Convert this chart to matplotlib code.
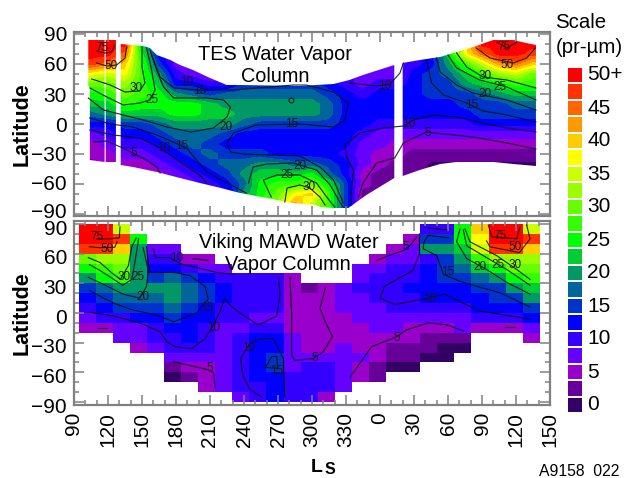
import matplotlib
matplotlib.use('Agg')
import matplotlib.pyplot as plt
import numpy as np
from matplotlib.colors import ListedColormap, BoundaryNorm
from matplotlib.patches import PathPatch
from matplotlib.path import Path
from matplotlib.transforms import ScaledTranslation

plt.rcParams['font.family'] = ['Liberation Sans', 'DejaVu Sans']

W, H = 633, 478
n = np.nan

# colour scale, one colour per 2.5 pr-um
scale_levels = [0, 2.5, 5, 7.5, 10, 12.5, 15, 17.5, 20, 22.5, 25, 27.5, 30, 32.5, 35, 37.5, 40, 42.5, 45, 47.5, 50]
scale_colors = ['#330066', '#660099', '#9900cc', '#6600ff', '#3300ff', '#0000ff', '#0033cc', '#006699', '#009966',
                '#00cc33', '#00ff00', '#33ff00', '#66ff00', '#99ff00', '#ccff00', '#ffff00', '#ffcc00', '#ff9900',
                '#ff6600', '#ff3300', '#ff0000']
scale_ticks = ['0', '5', '10', '15', '20', '25', '30', '35', '40', '45', '50+']

ls_ticks = [90, 120, 150, 180, 210, 240, 270, 300, 330, 360, 390, 420, 450, 480, 510]
ls_labels = ['90', '120', '150', '180', '210', '240', '270', '300', '330', '0', '30', '60', '90', '120', '150']
lat_ticks = [90, 60, 30, 0, -30, -60, -90]

# TES column, one list per Ls from 90 to 510 in steps of 15, lat 90 to -90 in steps of 10
tes_ls = [90, 105, 120, 135, 150, 165, 180, 195, 210, 225, 240, 255, 270, 285, 300, 315, 330, 345, 360, 375, 390,
          405, 420, 435, 450, 465, 480, 495, 510]
tes_columns = [
    [50, 50, 50, 47.5, 37.5, 30, 25, 22.5, 17.5, 12.5, 7.5, 5, 5, 2.5, 2.5, 2.5, 2.5, 2.5, 2.5],
    [50, 50, 50, 47.5, 37.5, 30, 25, 22.5, 17.5, 12.5, 7.5, 5, 5, 2.5, 2.5, 2.5, 2.5, 2.5, 2.5],
    [50, 50, 50, 45, 35, 30, 27.5, 22.5, 20, 12.5, 10, 7.5, 5, 5, 5, 5, 5, 5, 5],
    [50, 50, 45, 40, 37.5, 32.5, 30, 27.5, 22.5, 15, 12.5, 10, 7.5, 5, 5, 5, 5, 5, 5],
    [22.5, 22.5, 25, 27.5, 27.5, 27.5, 27.5, 25, 22.5, 15, 12.5, 10, 7.5, 5, 5, 5, 5, 5, 5],
    [12.5, 12.5, 12.5, 15, 20, 22.5, 25, 25, 22.5, 17.5, 15, 12.5, 10, 7.5, 5, 5, 5, 5, 5],
    [7.5, 7.5, 7.5, 7.5, 10, 12.5, 20, 25, 25, 20, 17.5, 15, 12.5, 10, 7.5, 5, 5, 5, 5],
    [5, 5, 5, 5, 7.5, 12.5, 17.5, 25, 25, 20, 17.5, 17.5, 15, 12.5, 10, 7.5, 7.5, 7.5, 7.5],
    [5, 5, 5, 5, 5, 10, 15, 22.5, 22.5, 20, 17.5, 15, 17.5, 15, 12.5, 10, 10, 10, 10],
    [10, 10, 10, 10, 10, 10, 17.5, 20, 22.5, 20, 15, 12.5, 15, 17.5, 15, 12.5, 10, 10, 10],
    [15, 15, 15, 15, 15, 15, 17.5, 20, 20, 17.5, 12.5, 12.5, 15, 17.5, 20, 17.5, 20, 20, 20],
    [15, 15, 15, 15, 15, 15, 17.5, 20, 20, 15, 12.5, 12.5, 15, 20, 22.5, 25, 25, 27.5, 27.5],
    [15, 15, 15, 15, 15, 15, 17.5, 20, 20, 15, 12.5, 12.5, 12.5, 20, 22.5, 27.5, 30, 32.5, 32.5],
    [15, 15, 15, 15, 15, 15, 17.5, 20, 20, 15, 12.5, 12.5, 12.5, 17.5, 22.5, 27.5, 37.5, 42.5, 42.5],
    [15, 15, 15, 15, 15, 15, 17.5, 20, 20, 15, 12.5, 12.5, 12.5, 17.5, 25, 30, 40, 35, 35],
    [12.5, 12.5, 12.5, 12.5, 12.5, 12.5, 15, 17.5, 17.5, 15, 12.5, 12.5, 12.5, 15, 17.5, 25, 27.5, 27.5, 27.5],
    [10, 10, 10, 10, 10, 10, 12.5, 12.5, 12.5, 12.5, 12.5, 12.5, 10, 12.5, 12.5, 15, 15, 15, 15],
    [7.5, 7.5, 7.5, 7.5, 7.5, 7.5, 10, 12.5, 12.5, 12.5, 10, 7.5, 7.5, 7.5, 5, 5, 2.5, 5, 5],
    [7.5, 7.5, 7.5, 7.5, 7.5, 10, 12.5, 12.5, 12.5, 10, 7.5, 7.5, 5, 5, 2.5, 2.5, 2.5, 2.5, 2.5],
    [7.5, 7.5, 7.5, 7.5, 7.5, 10, 12.5, 12.5, 12.5, 10, 7.5, 5, 5, 2.5, 2.5, 2.5, 2.5, 2.5, 2.5],
    [10, 10, 10, 10, 12.5, 12.5, 12.5, 12.5, 12.5, 10, 7.5, 5, 2.5, 2.5, 2.5, 2.5, 2.5, 2.5, 2.5],
    [12.5, 12.5, 12.5, 12.5, 15, 15, 15, 12.5, 12.5, 10, 7.5, 5, 2.5, 1, 1, 1, 1, 1, 1],
    [22.5, 22.5, 22.5, 20, 17.5, 15, 15, 12.5, 12.5, 10, 7.5, 5, 2.5, 1, 1, 1, 1, 1, 1],
    [37.5, 37.5, 37.5, 27.5, 22.5, 20, 15, 15, 12.5, 10, 7.5, 5, 2.5, 1, 1, 1, 1, 1, 1],
    [50, 50, 45, 35, 27.5, 22.5, 17.5, 15, 15, 12.5, 7.5, 5, 2.5, 1, 1, 1, 1, 1, 1],
    [50, 50, 50, 42.5, 32.5, 25, 20, 15, 15, 12.5, 7.5, 5, 2.5, 1, 1, 1, 1, 1, 1],
    [50, 50, 50, 45, 35, 27.5, 22.5, 17.5, 15, 12.5, 7.5, 5, 2.5, 1, 1, 1, 1, 1, 1],
    [50, 50, 47.5, 40, 30, 27.5, 22.5, 17.5, 15, 12.5, 7.5, 5, 2.5, 1, 1, 1, 1, 1, 1],
    [50, 50, 47.5, 40, 30, 27.5, 22.5, 17.5, 15, 12.5, 7.5, 5, 2.5, 1, 1, 1, 1, 1, 1],
]

# coverage of the TES map, (Ls, lat) around each swath
tes_swaths = [
    [(102.6, 84), (117, 84), (117, -38), (104, -36), (104, 37), (102.6, 38)],
    [(118, 84), (127, 84), (127, -38), (118, -38)],
    [(131.2, 80), (151, 78), (157, 76), (163, 69), (175, 64), (183.5, 59), (195, 54), (210, 46), (224.7, 39),
     (236.5, 39), (289, 38), (319, 40), (333, 44), (345, 49), (372.6, 59), (372.6, -54), (348, -71), (332, -84),
     (319, -84), (307, -83), (304, -81), (283, -79), (260, -74), (236.5, -69), (216, -63), (201, -59), (183.5, -54),
     (163, -48), (142, -43), (131.2, -41)],
    [(380, 61), (395, 64), (413, 67), (427.6, 72), (442, 77), (460, 84), (477.6, 84), (489, 81), (497.6, 79),
     (497.6, -42), (477.6, -40), (460, -38), (427.6, -38), (413, -40), (395, -46), (380, -52)],
]

tes_lines = [
    [(126, 79), (123, 72), (117, 71), (110, 73)],
    [(136.5, 77), (135, 66), (127.6, 59), (119, 58), (110, 61)],
    [(105.6, 45), (122, 39), (135, 32), (148, 33), (152.6, 41), (150, 57), (150, 77)],
    [(104, 36), (119, 27), (133.5, 19), (148, 21), (157, 24), (161.5, 34), (158.5, 54), (154, 76)],
    [(102.6, 26), (116, 14), (133.5, 9), (151, 4), (172, -3), (193, -8), (213, -4), (225, 7), (228, 17), (222, 24),
     (207, 26), (178, 26), (169, 37), (163, 54), (157, 74)],
    [(158.5, 69), (166, 47), (178, 36), (201, 34), (230.6, 34), (283.5, 39), (295, 39), (319, 32), (332, 21), (329, 4),
     (319, -3), (289, 0), (251, -1), (230.6, -9), (225, -19), (228, -28), (239.4, -30), (289.4, -32), (307, -43),
     (319, -56), (327.6, -79)],
    [(104, 6), (122, 0), (142, -3), (163, -11), (189.5, -24), (198, -36), (207, -48), (225, -59), (242, -69)],
    [(104, -6), (125, -11), (148, -14), (166, -24), (181, -36), (201, -51), (207, -59)],
    [(107, -18), (119, -17), (131, -23), (142, -29), (154, -36), (163, -43), (166, -49)],
    [(244, -59), (248, -43), (260, -40), (283.5, -39), (289, -41), (304, -46), (316, -61), (325, -79), (327.6, -83)],
    [(264, -73), (257, -56), (269, -51), (289, -51), (304, -59), (313, -73), (320, -83)],
    [(276, -78), (278, -64), (289.4, -61), (298, -64), (307, -73), (311.5, -81)],
    [(333.5, 41), (357, 38), (369, 40), (377.6, 51), (380.6, 61)],
    [(497.6, -8), (472, -4), (451, 1), (427.6, 7), (407, 9), (389.4, 4), (380.6, -2), (363, -4), (342, -9), (329, -21),
     (330.5, -33), (336.5, -46), (335, -66), (335, -81)],
    [(497.6, -25), (472, -19), (442, -13), (401, -8), (380.6, -19), (373, -34), (357, -39), (345, -59), (341, -73)],
    [(401, 64), (405.6, 41), (416, 29), (436.5, 21), (451, 13), (472, 9), (497.6, 2)],
    [(410, 66), (413, 52), (427.6, 39), (442, 31), (472, 24), (497.6, 14)],
    [(420, 69), (427.6, 56), (448, 44), (472, 37), (497.6, 24)],
    [(427.6, 71), (436.5, 57), (451, 47), (472, 44), (497.6, 36)],
    [(445, 76), (457, 66), (477.6, 61), (489.4, 66), (497, 76)],
    [(463, 82), (472, 76), (480.6, 82)],
]
tes_ring = [(281.5, 24)]
tes_labels = [('75', 114.4, 76), ('50', 123, 58), ('30', 145, 36), ('25', 159, 24), ('20', 224, -3), ('15', 282, 0),
              ('10', 189, 42), ('15', 201, 33), ('15', 185, -22), ('10', 169, -24), ('5', 143, -29), ('20', 289.4, -42),
              ('25', 277.6, -51), ('30', 297.6, -63), ('10', 364, 38), ('10', 385, 0), ('5', 402.6, -9), ('15', 441, 19),
              ('20', 452.6, 30), ('25', 466, 37), ('30', 452.6, 48), ('50', 472, 59), ('75', 469, 77)]

# Viking MAWD blocks, rows lat 90 to -90 (10 deg), 27 columns
viking_rows = [
    [50, 50, 35, n, n, n, n, n, n, n, n, n, n, n, n, n, n, n, n, n, 10, 10, 25, 40, 50, 50, 35],
    [50, 50, 47.5, 25, n, n, n, n, n, n, n, n, n, n, n, n, n, n, n, 5, 15, 15, 25, 37.5, 50, 50, 47.5],
    [47.5, 47.5, 40, 20, 7.5, 7.5, n, n, n, n, n, n, n, n, n, n, n, n, 5, 7.5, 20, 20, 22.5, 35, 47.5, 47.5, 40],
    [30, 32.5, 32.5, 20, 10, 10, 5, 5, n, n, n, n, n, n, n, n, n, 5, 7.5, 7.5, 10, 15, 20, 27.5, 32.5, 32.5, 32.5],
    [25, 27.5, 30, 20, 12.5, 12.5, 10, 7.5, 7.5, n, n, n, n, n, n, n, 7.5, 7.5, 10, 10, 12.5, 15, 17.5, 22.5, 25, 30, 30],
    [20, 25, 27.5, 20, 15, 17.5, 15, 12.5, 10, 10, 10, 10, 5, n, n, n, 7.5, 10, 10, 10, 12.5, 15, 15, 17.5, 20, 25, 27.5],
    [15, 17.5, 20, 20, 20, 20, 17.5, 15, 12.5, 10, 10, 10, 5, 2.5, 5, 7.5, 10, 10, 10, 12.5, 12.5, 12.5, 12.5, 15, 15, 20, 22.5],
    [12.5, 15, 17.5, 17.5, 17.5, 20, 17.5, 15, 12.5, 10, 10, 10, 5, 5, 5, 7.5, 7.5, 10, 10, 10, 12.5, 12.5, 12.5, 12.5, 15, 15, 20],
    [10, 12.5, 15, 15, 15, 17.5, 15, 12.5, 10, 10, 10, 10, 5, 5, 5, 7.5, 7.5, 7.5, 10, 10, 10, 10, 10, 12.5, 12.5, 12.5, 15],
    [7.5, 10, 10, 12.5, 12.5, 15, 12.5, 12.5, 10, 10, 7.5, 7.5, 5, 5, 5, 5, 7.5, 7.5, 7.5, 7.5, 7.5, 7.5, 7.5, 10, 10, 10, 12.5],
    [5, 5, 7.5, 7.5, 10, 12.5, 12.5, 10, 7.5, 7.5, 10, 10, 5, 5, 5, 5, 5, 7.5, 7.5, 5, 5, 5, 7.5, 5, 5, 5, 7.5],
    [n, n, 7.5, 7.5, 10, 10, 12.5, 10, 7.5, 10, 12.5, 12.5, 7.5, 5, 5, 5, 5, 5, 5, 5, 2.5, 2.5, 2.5, n, n, n, 5],
    [n, n, n, 5, 7.5, 10, 10, 10, 7.5, 10, 12.5, 12.5, 7.5, 5, 5, 7.5, 5, 5, 2.5, 2.5, 2.5, 0, 0, n, n, n, n],
    [n, n, n, n, n, 7.5, 7.5, 7.5, 7.5, 10, 12.5, 15, 7.5, 7.5, 7.5, 7.5, 7.5, 5, 2.5, 2.5, 0, 0, n, n, n, n, n],
    [n, n, n, n, n, 2.5, 5, 5, 7.5, 10, 12.5, 15, 7.5, 10, 10, 7.5, 5, 2.5, 0, 0, n, n, n, n, n, n, n],
    [n, n, n, n, n, 0, 2.5, 5, 7.5, 10, 12.5, 12.5, 10, 10, 10, 7.5, 5, 2.5, n, n, n, n, n, n, n, n, n],
    [n, n, n, n, n, n, n, 5, 7.5, 10, 10, 12.5, 10, 10, 10, 7.5, n, n, n, n, n, n, n, n, n, n, n],
    [n, n, n, n, n, n, n, n, n, 7.5, 10, 12.5, 10, 10, 5, n, n, n, n, n, n, n, n, n, n, n, n],
]
viking_ls_start, viking_ls_end = 94, 501

viking_lines = [
    [(130.6, 87), (130, 76), (121.8, 75), (110, 75)],
    [(103.5, 67), (112.9, 66), (126, 66.5), (128, 72)],
    [(102.6, 56), (113, 51), (125, 39), (131, 34), (138, 48), (141, 67), (145, 76)],
    [(103.5, 49), (113, 43), (125, 34), (133, 28), (141, 34), (144, 53), (147, 75)],
    [(102.6, 36), (116, 29), (133.5, 19), (148, 15), (154, 27), (155.6, 43), (151, 66)],
    [(103.5, 23), (113, 17), (125, 10), (142, 3), (163, -2), (178, -9), (198, 0), (208.5, 14), (205.6, 27), (192, 38),
     (178, 41), (157, 41), (155.6, 49), (154, 67)],
    [(160, 65), (162, 56), (174.7, 56), (183.5, 50), (216, 41), (230.6, 39)],
    [(195, 55), (208.5, 53)],
    [(102.6, 1), (125, -3), (148, -10), (166, -19), (172, -29), (179, -34), (194, -36), (205.6, -26), (213, -12), (219, 2),
     (223, 15), (227.6, 8), (236.5, 0), (252.6, -12), (269, -3), (271.8, 19), (270.3, 36)],
    [(255.6, -85), (245, -77), (239, -63), (237, -46), (245, -31), (254, -26), (266, -26), (274.7, -46), (276, -85)],
    [(258.9, -55), (264.7, -44), (269, -44), (269.7, -56), (258.9, -55)],
    [(111, -15), (119, -15)],
    [(177.6, -49), (192, -53), (207, -57), (213, -60), (214.4, -75)],
    [(280.6, 36), (282, -2), (282, -43), (285, -48), (301, -46), (310, -39), (318, -24), (311.5, -8.5), (307, 5), (312, 26)],
    [(357, 53), (367.4, 58), (380.6, 63), (386.5, 68), (392.4, 77)],
    [(333.5, -65), (352.6, -34), (374.7, -24), (383.5, -17), (402.6, -10), (419, -12), (433.5, -18)],
    [(492, -6), (448, 2), (417, 19), (398, 14), (373, 8.5), (360, 15), (364, 27), (389, 43), (395, 60), (394.7, 80)],
    [(402.6, 86), (419, 84)],
    [(492.4, 6), (465.9, 20.5), (445, 27), (430.6, 32), (416, 39), (410, 58), (398, 65), (398.8, 72), (402.6, 78.5), (420.3, 76)],
    [(492.4, 19), (471.8, 31), (454, 44), (436.5, 55), (427.6, 72), (430.6, 85)],
    [(492.4, 28), (471.8, 44), (454, 56), (436.5, 68), (433.5, 84)],
    [(492.4, 34), (480.6, 44), (463, 58), (439.4, 72), (435, 85)],
    [(454, 73), (457, 67), (483, 61), (492.4, 75), (489.4, 89)],
    [(455.6, 89), (458.5, 77), (480.6, 75), (483.5, 87)],
    [(470, -14), (479, -14)],
]
viking_labels = [('75', 110, 77), ('50', 119.4, 65), ('30', 134.4, 36), ('25', 146.8, 36), ('20', 151, 16), ('15', 207, 5),
                 ('10', 180.6, 56), ('10', 213, -15), ('10', 243.8, -35), ('15', 268.8, -59), ('5', 210, -56),
                 ('5', 302.6, -45), ('5', 383, 66.5), ('5', 375, -25), ('10', 404, 14), ('15', 420, 41), ('20', 448, 46),
                 ('25', 464, 49), ('30', 479, 49), ('50', 479, 66.5), ('75', 466, 77.5)]

cmap = ListedColormap(scale_colors)
edges = [v - 1.25 for v in scale_levels] + [51.25]
norm = BoundaryNorm(edges, cmap.N)
frame = '#808080'


def make_axes(left, top, right, bottom):
    return fig.add_axes([left / W, 1 - bottom / H, (right - left) / W, (bottom - top) / H])


def style_axes(ax, ylim, shifts):
    ax.set_xlim(90, 510)
    ax.set_ylim(*ylim)
    ax.set_xticks(ls_ticks)
    ax.set_xticks(np.arange(90, 511, 10), minor=True)
    ax.set_yticks(lat_ticks)
    ax.set_yticks(np.arange(-90, 91, 10), minor=True)
    ax.tick_params(which='major', direction='in', length=7, width=1.1, color=frame, top=True, right=True, labelsize=15, pad=5)
    ax.tick_params(which='minor', direction='in', length=3.5, width=1.1, color=frame, top=True, right=True)
    for s in ax.spines.values():
        s.set_color(frame)
        s.set_linewidth(1.6)
    # the labels of the original do not sit exactly on their ticks
    for t, dy in zip(ax.get_yticklabels(), shifts):
        t.set_transform(t.get_transform() + ScaledTranslation(0, dy / 100, fig.dpi_scale_trans))
    ax.set_ylabel('Latitude', fontsize=15.5, fontweight='bold')
    ax.yaxis.set_label_coords(-0.087, 0.5)


def draw_lines(ax, lines, labels):
    for line in lines:
        xs = [p[0] for p in line]
        ys = [p[1] for p in line]
        ax.plot(xs, ys, color='#101010', lw=0.8, alpha=0.9)
    for txt, x, y in labels:
        ax.text(x, y, txt, fontsize=8.5, color='#181818', ha='center', va='center')


fig = plt.figure(figsize=(W / 100, H / 100), dpi=100)

# TES panel
ax1 = make_axes(74, 32, 550, 216)
tes = np.array(tes_columns).T
im = ax1.imshow(tes, cmap=cmap, norm=norm, interpolation='bilinear', aspect='auto',
                extent=[tes_ls[0] - 7.5, tes_ls[-1] + 7.5, -95, 95], origin='upper')
verts = []
codes = []
for sw in tes_swaths:
    verts += sw + [sw[0]]
    codes += [Path.MOVETO] + [Path.LINETO] * (len(sw) - 1) + [Path.CLOSEPOLY]
im.set_clip_path(PathPatch(Path(verts, codes), transform=ax1.transData))
draw_lines(ax1, tes_lines, tes_labels)
ax1.plot([p[0] for p in tes_ring], [p[1] for p in tes_ring], 'o', ms=3.5, mfc='none', mec='#101010', mew=0.7)
style_axes(ax1, (-92, 92), [1, 1, 0, 0, 1, 2, 4])
ax1.tick_params(which='both', labelbottom=False)
fig.text(275 / W, 1 - 55 / H, 'TES Water Vapor', fontsize=14.3, ha='center', va='center')
fig.text(275 / W, 1 - 76 / H, 'Column', fontsize=14.3, ha='center', va='center')

# Viking panel
ax2 = make_axes(74, 221, 550, 405)
viking = np.ma.masked_invalid(np.array(viking_rows))
ls_edges = np.linspace(viking_ls_start, viking_ls_end, viking.shape[1] + 1)
lat_edges = np.linspace(90, -90, viking.shape[0] + 1)
ax2.pcolormesh(ls_edges, lat_edges, viking, cmap=cmap, norm=norm)
draw_lines(ax2, viking_lines, viking_labels)
style_axes(ax2, (-93, 93), [-4, -3, -3, -3, -3, -3, -3])
ax2.set_xticklabels(ls_labels, rotation=90, fontsize=15)
ax2.tick_params(axis='x', which='major', pad=5)
fig.text(289 / W, 1 - 243 / H, 'Viking MAWD Water', fontsize=14.3, ha='center', va='center')
fig.text(288 / W, 1 - 265 / H, 'Vapor Column', fontsize=14.3, ha='center', va='center')

# colour scale
ax3 = make_axes(567, 66.75, 583, 413.25)
level_edges = np.array(edges)
ax3.pcolormesh([0, 1], level_edges, np.array(scale_levels)[:, None], cmap=cmap, norm=norm, edgecolors='white', linewidth=1.2)
ax3.set_ylim(level_edges[0], level_edges[-1])
ax3.axis('off')
for i, lab in enumerate(scale_ticks):
    ax3.text(1.25, scale_levels[i * 2], lab, fontsize=15, ha='left', va='center', clip_on=False)
fig.text(580.5 / W, 1 - 23 / H, 'Scale', fontsize=14.7, ha='center', va='center')
fig.text(589 / W, 1 - 47 / H, '(pr-\u00b5m)', fontsize=14.7, ha='center', va='center')

# axis name and figure number
fig.text(311 / W, 1 - 472 / H, 'L', fontsize=14, fontweight='bold', ha='left', va='baseline')
fig.text(324.5 / W, 1 - 474.5 / H, 'S', fontsize=11.5, fontweight='bold', ha='left', va='baseline')
fig.text(539 / W, 1 - 471 / H, 'A9158  022', fontsize=11.3, ha='left', va='center')

fig.savefig('out.png', dpi=100)
